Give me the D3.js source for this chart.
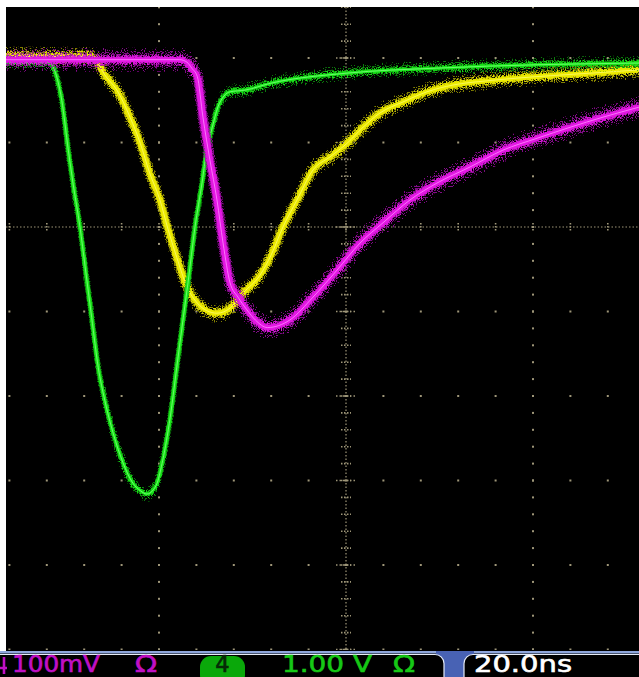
<!DOCTYPE html>
<html><head><meta charset="utf-8">
<script src="https://cdn.jsdelivr.net/npm/d3@7"></script>
<style>html,body{margin:0;padding:0;background:#fff;overflow:hidden}</style>
</head><body><svg id="c" width="639" height="677"></svg>
<script>
// ---- Data (time in ns, amplitude in screen divisions from centre) ----
const yellowTimeNs = [-36.4,-27.4,-26.6,-25.8,-24.5,-23.1,-22.0,-21.0,-19.9,-19.1,-18.1,-17.0,-15.9,-14.9,-13.8,-12.4,-11.0,-9.2,-8.0,-6.74,-5.24,-3.53,-1.71,0.11,1.82,3.64,6.10,8.66,11.44,15.08,20.43,27.49,31.4];
const yellowDiv    = [2.02,2.02,1.95,1.80,1.62,1.30,0.99,0.64,0.32,0.0,-0.36,-0.71,-0.90,-0.99,-1.02,-0.96,-0.78,-0.57,-0.33,0.0,0.32,0.675,0.83,0.99,1.18,1.35,1.48,1.60,1.68,1.73,1.78,1.83,1.86];

const greenTimeNs = [-36.4,-31.7,-31.3,-30.4,-29.7,-29.2,-28.45,-27.9,-27.2,-26.5,-25.8,-24.9,-23.85,-22.8,-22.0,-21.3,-20.6,-20.2,-19.6,-18.8,-18.1,-17.4,-16.9,-16.15,-15.4,-14.9,-14.3,-13.7,-13.05,-12.4,-10.8,-8.1,0.0,9.7,20.4,31.4];
const greenDiv    = [1.95,1.95,1.89,1.50,0.91,0.52,0.0,-0.47,-1.07,-1.66,-2.05,-2.44,-2.79,-3.03,-3.12,-3.16,-3.11,-3.03,-2.76,-2.25,-1.66,-1.07,-0.66,0.0,0.52,0.91,1.18,1.42,1.55,1.60,1.62,1.70,1.82,1.88,1.92,1.94];

const magentaTimeNs = [-36.4,-17.8,-17.0,-16.5,-15.9,-15.3,-14.55,-13.8,-13.15,-12.4,-11.55,-10.6,-9.7,-8.4,-6.0,-3.53,-0.96,1.5,3.96,6.84,9.73,13.26,16.79,20.43,23.96,27.49,31.4];
const magentaDiv    = [1.98,1.98,1.95,1.88,1.78,1.30,0.79,0.32,-0.19,-0.66,-0.83,-0.98,-1.10,-1.19,-1.10,-0.83,-0.51,-0.19,0.05,0.32,0.52,0.71,0.91,1.05,1.18,1.30,1.42];

const ch3Scale = "100mV";
const ch4Number = "4";
const ch4Scale = "1.00 V";
const ohm = "\u03A9";
const timebase = "20.0ns";

// ---- Layout ----
const svg = d3.select("#c");
const W = 639, H = 677;
const plot = {x0: 6, y0: 7, x1: 639, y1: 651};
const cx = 346, cy = 227, divX = 187, divY = 84.5;
const x = d3.scaleLinear().domain([-100, 100]).range([cx - 5 * divX, cx + 5 * divX]);
const y = d3.scaleLinear().domain([-5, 5]).range([cy + 5 * divY, cy - 5 * divY]);

svg.append("rect").attr("width", W).attr("height", H).attr("fill", "#fff");
svg.append("rect").attr("x", plot.x0).attr("y", plot.y0).attr("width", plot.x1 - plot.x0).attr("height", plot.y1 - plot.y0).attr("fill", "#000");

const defs = svg.append("defs");
defs.append("clipPath").attr("id", "clip").append("rect")
  .attr("x", plot.x0).attr("y", plot.y0).attr("width", plot.x1 - plot.x0).attr("height", plot.y1 - plot.y0 - 1);
function fuzzFilter(id, freq, scale, seed) {
  const f = defs.append("filter").attr("id", id).attr("filterUnits", "userSpaceOnUse")
    .attr("x", 0).attr("y", 0).attr("width", W).attr("height", H);
  f.append("feTurbulence").attr("type", "fractalNoise").attr("baseFrequency", freq).attr("numOctaves", 1).attr("seed", seed).attr("result", "n");
  f.append("feColorMatrix").attr("in", "n").attr("type", "matrix")
    .attr("values", "0 0 0 0 0.5  0 3 0 0 -1  0 0 1 0 0  0 0 0 0 1").attr("result", "m");
  f.append("feDisplacementMap").attr("in", "SourceGraphic").attr("in2", "m").attr("scale", scale)
    .attr("xChannelSelector", "R").attr("yChannelSelector", "G");
}
fuzzFilter("fuzzA", "0.9 0.8", 10, 3);
fuzzFilter("fuzzM", "0.9 0.8", 14, 11);
fuzzFilter("fuzzB", "0.8 0.7", 5, 7);

const g = svg.append("g").attr("clip-path", "url(#clip)");
const gridCol = "#9e9678";

const minorT = d3.range(-100, 100.01, 4).filter(t => x(t) >= plot.x0 + 2 && x(t) <= plot.x1);
const minorV = d3.range(-5, 5.01, 0.2).filter(v => y(v) >= plot.y0 && y(v) <= plot.y1);
const majorV = d3.range(-5, 5.01, 1).filter(v => y(v) >= plot.y0 && y(v) <= plot.y1 + 2);
const majorT = [-20, 20];

majorV.forEach(v => {
  if (v === 0) return;
  g.selectAll(null).data(minorT).enter().append("rect")
    .attr("x", t => x(t) - 1).attr("y", y(v) - 1).attr("width", 2).attr("height", 2).attr("fill", gridCol);
});
majorT.forEach(t => {
  g.selectAll(null).data(minorV).enter().append("rect")
    .attr("x", x(t) - 1).attr("y", v => y(v) - 1).attr("width", 2).attr("height", 2).attr("fill", gridCol);
});
g.append("line").attr("x1", plot.x0).attr("x2", plot.x1).attr("y1", y(0)).attr("y2", y(0))
  .attr("stroke", gridCol).attr("stroke-width", 1.2).attr("stroke-dasharray", "1.5,2");
g.append("line").attr("x1", x(0)).attr("x2", x(0)).attr("y1", plot.y0).attr("y2", plot.y1)
  .attr("stroke", gridCol).attr("stroke-width", 1.2).attr("stroke-dasharray", "1.5,2");
g.selectAll(null).data(minorT).enter().append("line")
  .attr("x1", t => x(t)).attr("x2", t => x(t)).attr("y1", y(0) - 4).attr("y2", y(0) + 4)
  .attr("stroke", gridCol).attr("stroke-width", 1.6).attr("stroke-dasharray", "1.5,1.5");
g.selectAll(null).data(minorV).enter().append("line")
  .attr("x1", x(0) - 5).attr("x2", x(0) + 5).attr("y1", v => y(v)).attr("y2", v => y(v))
  .attr("stroke", gridCol).attr("stroke-width", 1.6).attr("stroke-dasharray", "1.5,1.5");
majorV.forEach(v => {
  g.append("line").attr("x1", x(0) - 10).attr("x2", x(0) + 10).attr("y1", y(v)).attr("y2", y(v))
    .attr("stroke", gridCol).attr("stroke-width", 1.4).attr("stroke-dasharray", "1.5,2");
});

// ---- Traces ----
const line = d3.line().x(d => x(d[0])).y(d => y(d[1])).curve(d3.curveMonotoneX);
function trace(ts, vs, st) {
  const pts = ts.map((t, i) => [t, vs[i]]);
  const d = line(pts);
  const tg = g.append("g");
  tg.append("path").attr("d", d).attr("fill", "none").attr("stroke", st.halo)
    .attr("stroke-width", st.haloW).attr("stroke-opacity", 0.85).attr("filter", `url(#${st.fuzz})`);
  tg.append("path").attr("d", d).attr("fill", "none").attr("stroke", st.main)
    .attr("stroke-width", st.mainW).attr("stroke-opacity", 0.9).attr("filter", "url(#fuzzB)");
  tg.append("path").attr("d", d).attr("fill", "none").attr("stroke", st.main)
    .attr("stroke-width", st.crispW);
  tg.append("path").attr("d", d).attr("fill", "none").attr("stroke", st.core)
    .attr("stroke-width", 1).attr("stroke-opacity", 0.8);
}
trace(yellowTimeNs, yellowDiv, {halo: "#9a9600", haloW: 9, fuzz: "fuzzA", main: "#ecea00", mainW: 6.5, crispW: 4.6, core: "#fbfb70"});
trace(greenTimeNs, greenDiv, {halo: "#0e8e0e", haloW: 5.5, fuzz: "fuzzA", main: "#18e418", mainW: 4, crispW: 3, core: "#80ff80"});
trace(magentaTimeNs, magentaDiv, {halo: "#960a9e", haloW: 10, fuzz: "fuzzM", main: "#e418e4", mainW: 7, crispW: 5, core: "#ff8cff"});

// ---- Status bar ----
const sb = svg.append("g");
sb.append("rect").attr("x", 0).attr("y", 651).attr("width", W).attr("height", 26).attr("fill", "#000");
sb.append("rect").attr("x", 436).attr("y", 651).attr("width", 38).attr("height", 26).attr("fill", "#4862b4");
sb.append("rect").attr("x", -20).attr("y", 654.5).attr("width", 464).attr("height", 40).attr("rx", 9)
  .attr("fill", "#000").attr("stroke", "#e6ecf8").attr("stroke-width", 1.2);
sb.append("rect").attr("x", 464).attr("y", 654.5).attr("width", 220).attr("height", 40).attr("rx", 9)
  .attr("fill", "#000").attr("stroke", "#e6ecf8").attr("stroke-width", 1.2);
sb.append("rect").attr("x", 0).attr("y", 651).attr("width", 436).attr("height", 2.5).attr("fill", "#8ea6dc");
sb.append("rect").attr("x", 474).attr("y", 651).attr("width", W - 474).attr("height", 2.5).attr("fill", "#8ea6dc");

const font = "'DejaVu Sans', sans-serif";
const fs = 22.5, base = 671.5;
function txt(s, xx, len, col) {
  sb.append("text").attr("x", xx).attr("y", base).attr("font-family", font).attr("font-size", fs)
    .attr("fill", col).attr("stroke", col).attr("stroke-width", 0.6)
    .attr("textLength", len).attr("lengthAdjust", "spacingAndGlyphs").text(s);
}
const mag = "#c010c4", grn = "#16c816";
sb.append("path").attr("d", "M4,657 V674 M0,668 H7").attr("stroke", mag).attr("stroke-width", 2.6).attr("fill", "none");
txt(ch3Scale, 12, 88, mag);
txt(ohm, 135, 22, mag);
sb.append("rect").attr("x", 200).attr("y", 656).attr("width", 45).attr("height", 30).attr("rx", 11).attr("fill", "#0aa80a");
sb.append("text").attr("x", 222.5).attr("y", base).attr("text-anchor", "middle").attr("font-family", font)
  .attr("font-size", fs).attr("fill", "#062a06").attr("stroke", "#062a06").attr("stroke-width", 0.6).text(ch4Number);
txt(ch4Scale, 282, 90, grn);
txt(ohm, 393, 22, grn);
txt(timebase, 474, 98, "#ffffff");
</script></body></html>
